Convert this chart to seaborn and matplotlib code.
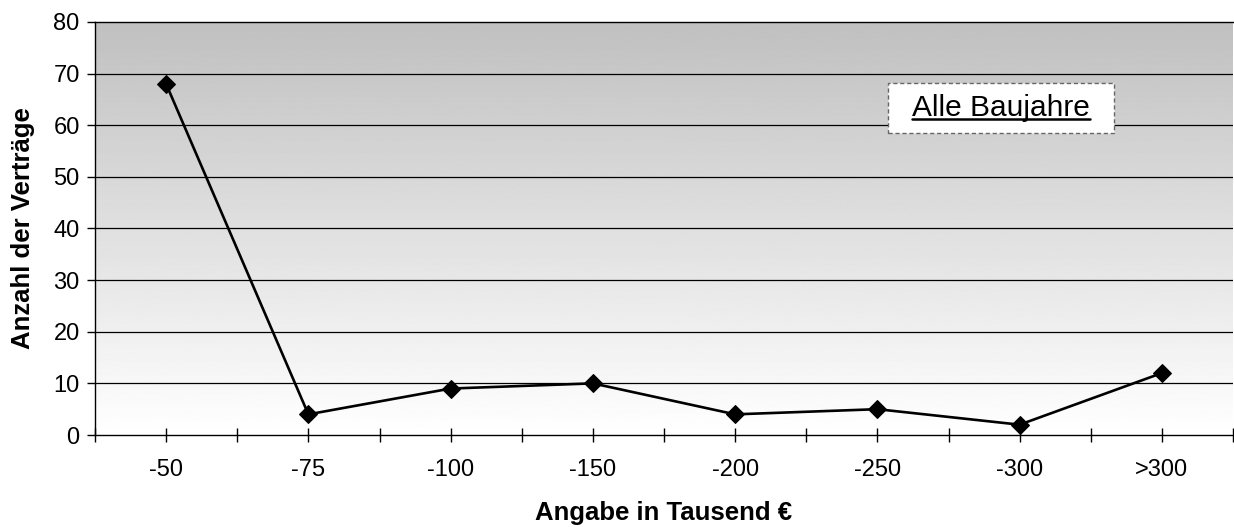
import numpy as np
import pandas as pd
import matplotlib
matplotlib.use("Agg")
import matplotlib.pyplot as plt
import seaborn as sns
from matplotlib.lines import Line2D
from matplotlib.patches import Rectangle

categories = ["-50", "-75", "-100", "-150", "-200", "-250", "-300", ">300"]
values = [68, 4, 9, 10, 4, 5, 2, 12]
y_ticks = [0, 10, 20, 30, 40, 50, 60, 70, 80]

sns.set_theme(style="white")
plt.rcParams['font.family'] = ['Liberation Sans', 'DejaVu Sans']
plt.rcParams.update({"text.color": "black", "axes.labelcolor": "black",
                     "xtick.color": "black", "ytick.color": "black"})

fig = plt.figure(figsize=(12.34, 5.27), dpi=100)
ax = fig.add_axes([95/1234, 1-435/527, (1233-95)/1234, (435-22)/527])

# gradient background
grad = np.linspace(1.0, 0.753, 256).reshape(-1, 1)
ax.imshow(grad, cmap="gray", vmin=0, vmax=1, aspect="auto",
          extent=[0, 1, 0, 1], transform=ax.transAxes, zorder=0, origin="lower")

df = pd.DataFrame({"pos": np.arange(len(categories)), "val": values})
sns.lineplot(data=df, x="pos", y="val", ax=ax, color="black", linewidth=1.9,
             marker="D", markersize=9, markeredgecolor="black", zorder=3)

ax.set_xlim(-0.5, len(categories) - 0.5)
ax.set_ylim(0, 80)
ax.set_yticks(y_ticks)
ax.set_yticklabels([str(v) for v in y_ticks], fontsize=17)
ax.set_xticks(np.arange(len(categories)))
ax.set_xticklabels(categories, fontsize=17)
ax.set_xticks(np.arange(len(categories) + 1) - 0.5, minor=True)

for v in y_ticks[1:-1]:
    ax.axhline(v, color="black", linewidth=0.9, zorder=1)

for s in ["left", "bottom", "top"]:
    ax.spines[s].set_visible(True)
    ax.spines[s].set_color("black")
    ax.spines[s].set_linewidth(1.0)
ax.spines["right"].set_visible(False)

ax.tick_params(axis="x", which="both", direction="inout", length=10, width=1, color="black", pad=12, bottom=True)
ax.tick_params(axis="y", which="both", direction="out", length=6, width=1, color="black", pad=5, left=True)

ax.set_xlabel("Angabe in Tausend €", fontsize=18.5, fontweight="bold", labelpad=15)
ax.set_ylabel("Anzahl der Verträge", fontsize=18.5, fontweight="bold", labelpad=13)

txt = ax.text(0.796, 0.792, "Alle Baujahre", transform=ax.transAxes, fontsize=21.5,
              ha="center", va="center", zorder=6)

fig.canvas.draw()
r = fig.canvas.get_renderer()
bbp = txt.get_window_extent(r)
inv = ax.transAxes.inverted()
# box around the text (pixel padding converted to axes fraction)
(x0, y0) = inv.transform((bbp.x0 - 24, (bbp.y0 + bbp.y1) / 2 - 25))
(x1, y1) = inv.transform((bbp.x1 + 24, (bbp.y0 + bbp.y1) / 2 + 25))
ax.add_patch(Rectangle((x0, y0), x1 - x0, y1 - y0, transform=ax.transAxes,
                       facecolor="white", edgecolor="#666666",
                       linestyle=(0, (3, 2)), linewidth=1, zorder=5))
bb = bbp.transformed(inv)
ax.add_line(Line2D([bb.x0, bb.x1], [bb.y0 + 0.006, bb.y0 + 0.006], transform=ax.transAxes,
                   color="black", linewidth=1.8, zorder=7))

fig.savefig("out.png", dpi=100)
